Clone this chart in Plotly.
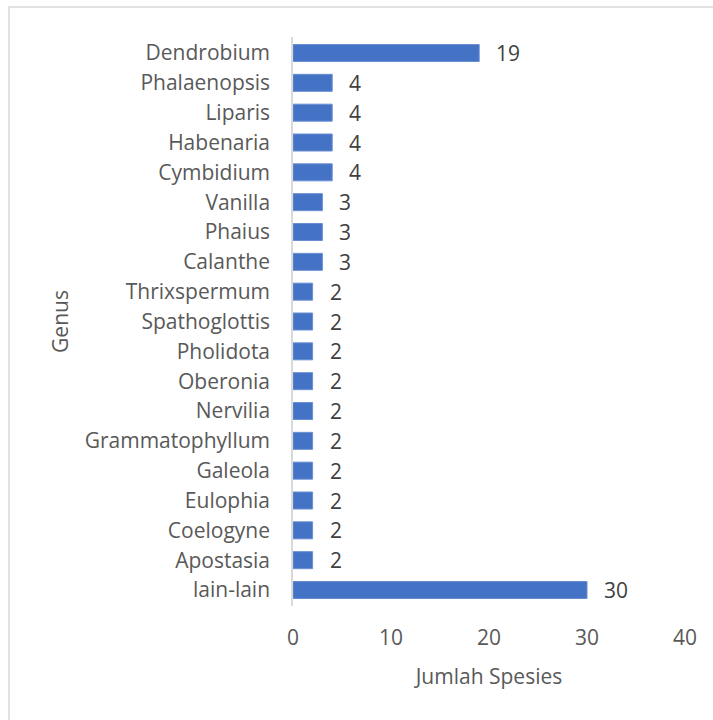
import plotly.graph_objects as go

genus = ["Dendrobium", "Phalaenopsis", "Liparis", "Habenaria", "Cymbidium",
         "Vanilla", "Phaius", "Calanthe", "Thrixspermum", "Spathoglottis",
         "Pholidota", "Oberonia", "Nervilia", "Grammatophyllum", "Galeola",
         "Eulophia", "Coelogyne", "Apostasia", "lain-lain"]
jumlah = [19, 4, 4, 4, 4, 3, 3, 3, 2, 2, 2, 2, 2, 2, 2, 2, 2, 2, 30]
x_ticks = [0, 10, 20, 30, 40]

FONT = "Open Sans"
fig = go.Figure()
fig.add_trace(go.Bar(
    x=jumlah, y=genus, orientation="h",
    marker=dict(color="#4472C4", line=dict(color="#6a8fd3", width=1)),
    width=0.57, hoverinfo="skip",
))

for g, v in zip(genus, jumlah):
    fig.add_annotation(x=v, y=g, text=str(v), showarrow=False,
                       xanchor="left", xshift=15,
                       font=dict(family=FONT, size=21, color="#404040"))

fig.add_shape(type="rect", xref="paper", yref="paper",
              x0=-0.7245, x1=1.08, y0=-0.21, y1=1.0527,
              line=dict(color="#d9d9d9", width=1.5), layer="below")

fig.update_layout(
    width=713, height=720,
    margin=dict(l=293, r=28, t=37, b=114),
    paper_bgcolor="white", plot_bgcolor="white",
    showlegend=False,
    font=dict(family=FONT, size=21, color="#595959"),
    xaxis=dict(range=[0, 40], tickvals=x_ticks, showgrid=False, zeroline=False,
               showline=False, ticks="outside", ticklen=13, tickcolor="rgba(0,0,0,0)",
               tickfont=dict(size=21, color="#595959"),
               title=dict(text="Jumlah Spesies", font=dict(size=21, color="#595959"), standoff=19)),
    yaxis=dict(categoryorder="array", categoryarray=genus, autorange="reversed",
               showgrid=False, zeroline=False, showline=True, linecolor="#d9d9d9", linewidth=1.5,
               ticks="outside", ticklen=17, tickcolor="rgba(0,0,0,0)",
               tickfont=dict(size=21, color="#595959"),
               title=dict(text="Genus", font=dict(size=21, color="#595959"), standoff=10)),
)

fig.write_html("out.html")
